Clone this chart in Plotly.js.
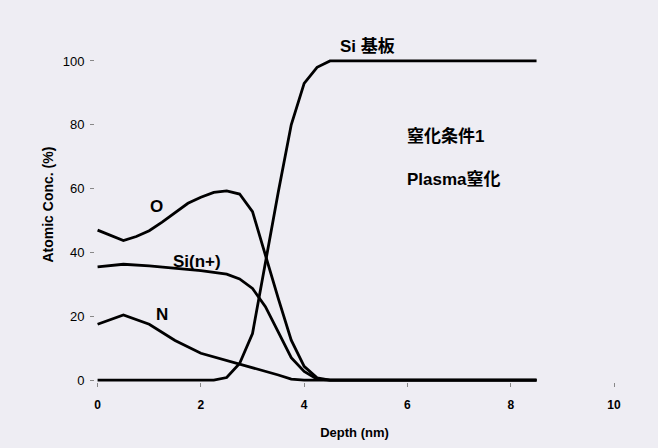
<!DOCTYPE html>
<html>
<head>
<meta charset="utf-8">
<script src="https://cdn.plot.ly/plotly-3.0.1.min.js"></script>
<style>html,body{margin:0;padding:0;background:#eeedf3;}#chart{width:658px;height:448px;}</style>
</head>
<body>
<div id="chart"></div>
<script>
// Depth (nm) and atomic concentration (%)
const depthO = [0, 0.25, 0.5, 0.75, 1.0, 1.25, 1.5, 1.75, 2.0, 2.25, 2.5, 2.75, 3.0, 3.25, 3.5, 3.75, 4.0, 4.25, 4.5, 8.5];
const concO  = [47, 45.3, 43.7, 45, 46.8, 49.5, 52.5, 55.4, 57.3, 58.8, 59.3, 58.3, 52.8, 39, 25.5, 12.5, 4.3, 0.7, 0, 0];

const depthSiN = [0, 0.5, 1.0, 1.5, 2.0, 2.5, 2.75, 3.0, 3.25, 3.5, 3.75, 4.0, 4.25, 4.5, 8.5];
const concSiN  = [35.5, 36.3, 35.8, 35, 34.3, 33.2, 31.7, 28.7, 23, 15, 7, 2.7, 0.3, 0, 0];

const depthN = [0, 0.5, 1.0, 1.5, 2.0, 2.5, 3.0, 3.5, 3.75, 4.0, 8.5];
const concN  = [17.5, 20.4, 17.5, 12.4, 8.4, 6.1, 4, 1.6, 0.3, 0, 0];

const depthSub = [0, 2.25, 2.5, 2.75, 3.0, 3.25, 3.5, 3.75, 4.0, 4.25, 4.5, 8.5];
const concSub  = [0, 0, 0.8, 5.2, 14.6, 37, 59, 80, 93, 98, 100, 100];

const xTicks = [0, 2, 4, 6, 8, 10];
const yTicks = [0, 20, 40, 60, 80, 100];

const labelO = "O", labelSiN = "Si(n+)", labelN = "N", labelSub = "Si 基板";
const note1 = "窒化条件1", note2 = "Plasma窒化";

const FONT = "Liberation Sans, Arial, Noto Sans CJK JP, sans-serif";
const lineStyle = {color: "#000", width: 2.8};

const traces = [
  {x: depthO, y: concO, mode: "lines", line: lineStyle, name: labelO},
  {x: depthSiN, y: concSiN, mode: "lines", line: lineStyle, name: labelSiN},
  {x: depthN, y: concN, mode: "lines", line: lineStyle, name: labelN},
  {x: depthSub, y: concSub, mode: "lines", line: lineStyle, name: labelSub}
];

const ann = (text, x, y, size, xanchor) => ({
  text: "<b>" + text + "</b>", x: x, y: y, xref: "x", yref: "y",
  showarrow: false, xanchor: xanchor || "center", yanchor: "middle",
  font: {family: FONT, size: size, color: "#000"}
});

const layout = {
  width: 658, height: 448,
  paper_bgcolor: "#eeedf3", plot_bgcolor: "#eeedf3",
  margin: {l: 95, r: 44, t: 45, b: 66},
  showlegend: false,
  xaxis: {
    range: [-0.05, 10], tickvals: xTicks, ticktext: xTicks.map(v => "<b>" + v + "</b>"),
    showgrid: false, zeroline: false, showline: false,
    ticks: "outside", ticklen: 4, tickcolor: "#888", tickwidth: 1,
    ticklabelstandoff: 8,
    tickfont: {family: FONT, size: 12, color: "#000"},
    title: {text: "<b>Depth (nm)</b>", font: {family: FONT, size: 13, color: "#000"}, standoff: 16}
  },
  yaxis: {
    range: [-0.6, 105], tickvals: yTicks,
    showgrid: false, zeroline: false, showline: false,
    ticks: "outside", ticklen: 4, tickcolor: "#888", tickwidth: 1,
    ticklabelstandoff: 3,
    tickfont: {family: FONT, size: 13, color: "#000"}
  },
  annotations: [
    ann(labelO, 1.15, 54.3, 17),
    ann(labelSiN, 1.92, 37.1, 17),
    ann(labelN, 1.25, 20.4, 17),
    ann(labelSub, 5.22, 104.5, 17),
    ann(note1, 5.95, 76.6, 17, "left"),
    ann(note2, 5.95, 62.9, 17, "left"),
    {text: "<b>Atomic Conc. (%)</b>", xref: "paper", yref: "y", x: 0, y: 55, xshift: -47,
     textangle: -90, showarrow: false, xanchor: "center", yanchor: "middle",
     font: {family: FONT, size: 14, color: "#000"}}
  ]
};

Plotly.newPlot("chart", traces, layout, {displayModeBar: false, staticPlot: true});
</script>
</body>
</html>
